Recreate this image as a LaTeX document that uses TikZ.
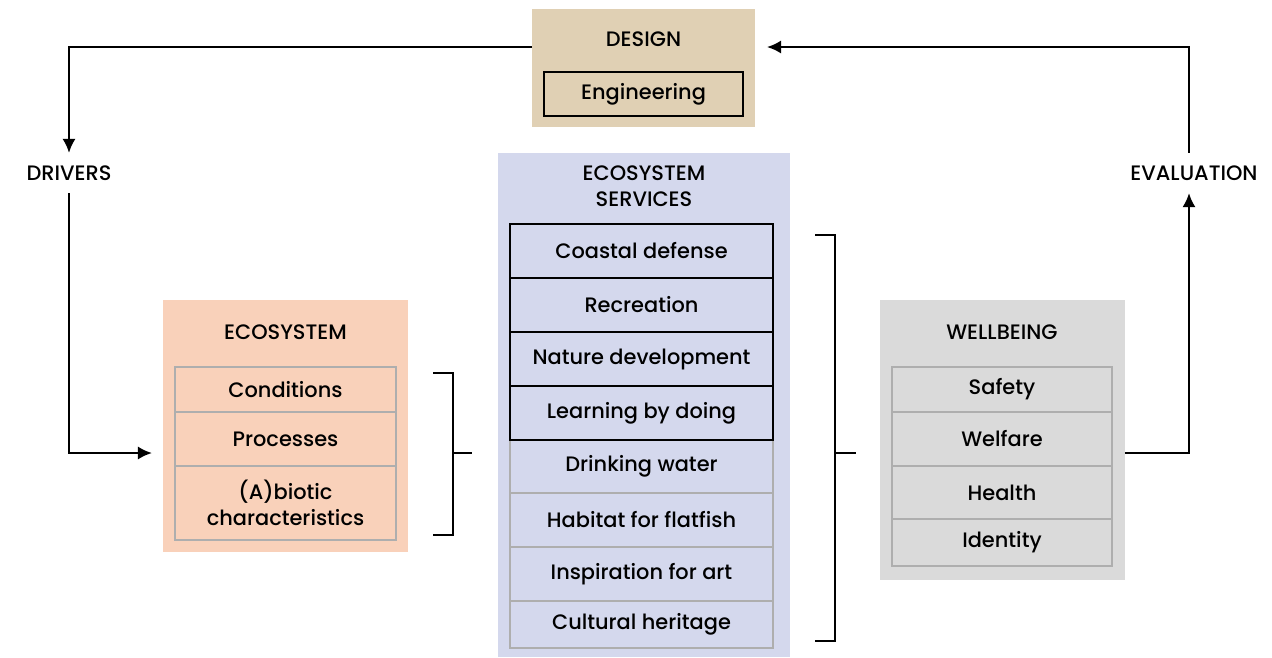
\documentclass[tikz,border=0pt]{standalone}
\usepackage{fontspec}
\setmainfont{Poppins}[UprightFont={* Medium}]
\usetikzlibrary{arrows.meta}
\definecolor{designtan}{RGB}{224,208,180}
\definecolor{ecopeach}{RGB}{249,209,186}
\definecolor{servicelilac}{RGB}{212,216,237}
\definecolor{wellgray}{RGB}{218,218,218}
\definecolor{cellgray}{RGB}{174,174,174}

\begin{document}
\begin{tikzpicture}[x=0.02cm, y=-0.02cm, font=\fontsize{11.9}{14.7}\selectfont,
	panel/.style={shape=rectangle, inner sep=0pt, outer sep=0pt},
	heading/.style={anchor=center, align=center, inner sep=0pt},
	sidelabel/.style={anchor=center, inner sep=7pt},
	grayitem/.style={shape=rectangle, draw=cellgray, line width=1.1pt, inner sep=0pt, outer sep=0pt, align=center},
	blackitem/.style={shape=rectangle, draw=black, line width=1.3pt, inner sep=0pt, outer sep=0pt, align=center},
	loopline/.style={line width=1.3pt, -{Latex[length=8pt, width=7.5pt]}},
	bracket/.style={line width=1.3pt}]
	\useasboundingbox (0,0) rectangle (1272,657);
	% Design block on top:
	\node[panel, fill=designtan, minimum width=4.46cm, minimum height=2.36cm] (design) at (643.5, 68){};
	\node[heading] (designtitle) at (643.5, 39){DESIGN};
	\node[blackitem, minimum width=3.98cm, minimum height=0.88cm] (engineering) at (643.5, 94){Engineering};
	% Ecosystem:
	\node[panel, fill=ecopeach, minimum width=4.9cm, minimum height=5.04cm] (ecosystem) at (285.5, 426){};
	\node[heading] (ecotitle) at (285.5, 332){ECOSYSTEM};
	\node[grayitem, minimum width=4.42cm, minimum height=0.9cm] (conditions) at (285.5, 389.5){Conditions};
	\node[grayitem, minimum width=4.42cm, minimum height=1.08cm] (processes) at (285.5, 439){Processes};
	\node[grayitem, minimum width=4.42cm, minimum height=1.48cm] (abiotic) at (285.5, 503){(A)biotic\\characteristics};
	% Ecosystem services:
	\node[panel, fill=servicelilac, minimum width=5.84cm, minimum height=10.08cm] (services) at (644, 405){};
	\node[heading] (servicetitle) at (644, 186){ECOSYSTEM\\SERVICES};
	\node[grayitem, minimum width=5.26cm, minimum height=1.06cm] (water) at (641.5, 466.5){Drinking water};
	\node[grayitem, minimum width=5.26cm, minimum height=1.08cm] (flatfish) at (641.5, 520){Habitat for flatfish};
	\node[grayitem, minimum width=5.26cm, minimum height=1.08cm] (art) at (641.5, 574){Inspiration for art};
	\node[grayitem, minimum width=5.26cm, minimum height=0.94cm] (heritage) at (641.5, 624.5){Cultural heritage};
	\node[blackitem, minimum width=5.26cm, minimum height=1.08cm] (coastal) at (641.5, 251){Coastal defense};
	\node[blackitem, minimum width=5.26cm, minimum height=1.08cm] (recreation) at (641.5, 305){Recreation};
	\node[blackitem, minimum width=5.26cm, minimum height=1.08cm] (nature) at (641.5, 359){Nature development};
	\node[blackitem, minimum width=5.26cm, minimum height=1.08cm] (learning) at (641.5, 413){Learning by doing};
	% Wellbeing:
	\node[panel, fill=wellgray, minimum width=4.9cm, minimum height=5.6cm] (wellbeing) at (1002.5, 440){};
	\node[heading] (welltitle) at (1002, 332){WELLBEING};
	\node[grayitem, minimum width=4.4cm, minimum height=0.9cm] (safety) at (1002, 389.5){Safety};
	\node[grayitem, minimum width=4.4cm, minimum height=1.08cm] (welfare) at (1002, 439){Welfare};
	\node[grayitem, minimum width=4.4cm, minimum height=1.06cm] (health) at (1002, 492.5){Health};
	\node[grayitem, minimum width=4.4cm, minimum height=0.94cm] (identity) at (1002, 542.5){Identity};
	% Loop labels:
	\node[sidelabel] (drivers) at (69, 173){DRIVERS};
	\node[sidelabel] (evaluation) at (1194, 173){EVALUATION};
	\coordinate (ecoin) at (152, 453);
	% Brackets:
	\draw[bracket] (433, 373) -- (453, 373) -- (453, 535) -- (433, 535);
	\draw[bracket] (453, 453) -- (472, 453);
	\draw[bracket] (815, 235) -- (835, 235) -- (835, 641) -- (815, 641);
	\draw[bracket] (835, 453) -- (856, 453);
	% Loop arrows:
	\draw[loopline] ([yshift=0.42cm]design.west) -| (drivers.north);
	\draw[loopline] (drivers.south) |- (ecoin);
	\draw[loopline] ([yshift=-0.26cm]wellbeing.east) -| ([xshift=-0.1cm]evaluation.south);
	\draw[loopline] ([xshift=-0.1cm]evaluation.north) |- ([xshift=0.24cm, yshift=0.42cm]design.east);
\end{tikzpicture}
\end{document}
